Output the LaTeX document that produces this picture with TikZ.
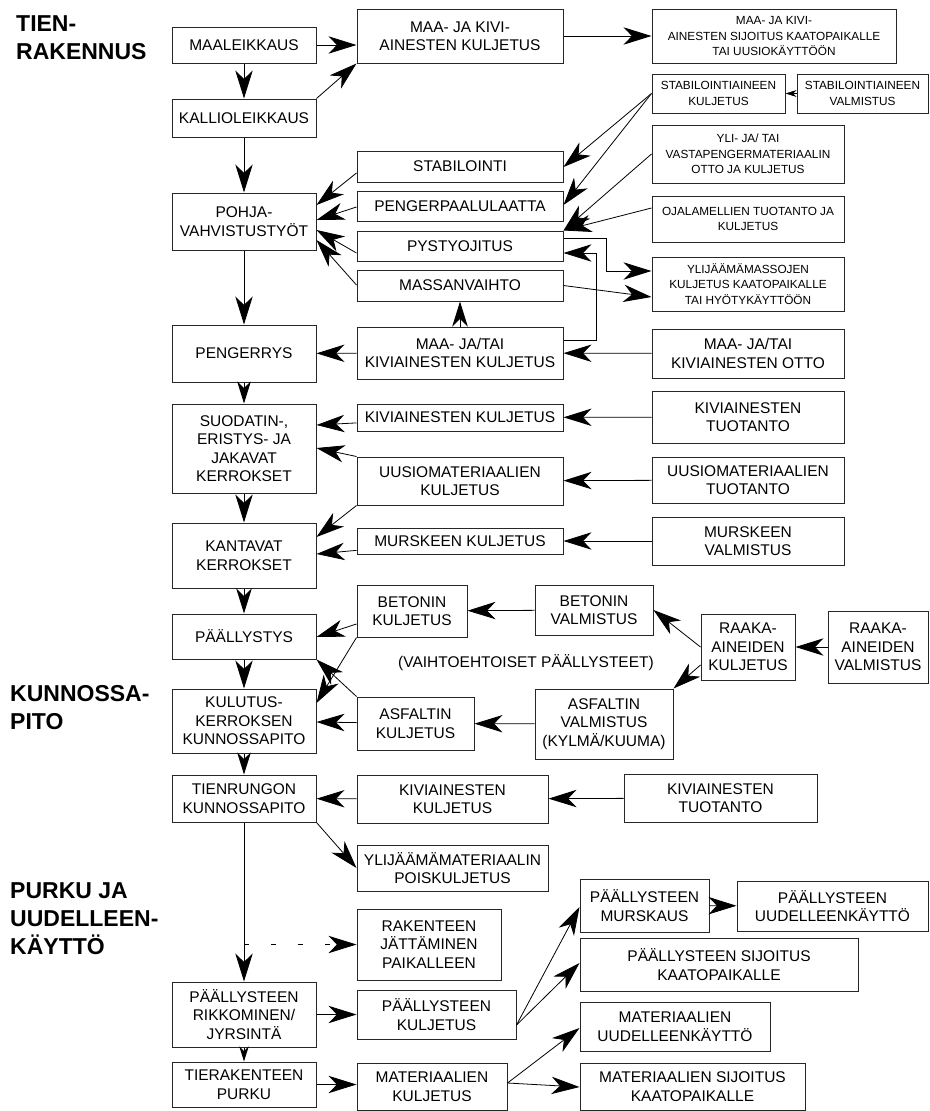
\documentclass[tikz,border=0pt]{standalone}
\usepackage{fontspec}
\setmainfont{Liberation Sans}
\usetikzlibrary{arrows.meta}

\begin{document}
\begin{tikzpicture}[x=1pt, y=-1pt,
	box/.style={draw=black!85, line width=1pt, align=center, inner sep=2pt, font=\fontsize{15.5}{18.5}\selectfont},
	small/.style={font=\fontsize{11.8}{15.5}\selectfont},
	lbox/.style={box, minimum width=144pt},
	mbox/.style={box, minimum width=206pt},
	rbox/.style={box, minimum width=192pt},
	head/.style={anchor=north west, align=left, inner sep=0pt, font=\fontsize{23}{28}\selectfont\bfseries},
	arr/.style={line width=0.8pt, -{Stealth[length=#1, width'=0pt 0.62, inset'=0pt 0.3]}},
	arr/.default=28pt]
	\useasboundingbox (0,0) rectangle (929,1111);
	\node[head] (tien) at (16,15) {TIEN-\\RAKENNUS};
	\node[head] (kunnossa) at (10,685) {KUNNOSSA-\\PITO};
	\node[head] (purku) at (10,882) {PURKU JA\\UUDELLEEN-\\KÄYTTÖ};
	% vasen sarake
	\node[lbox, minimum height=36pt] (maaleik) at (244,45) {MAALEIKKAUS};
	\node[lbox, minimum height=38pt] (kallio) at (244,118) {KALLIOLEIKKAUS};
	\node[lbox, minimum height=57pt] (pohja) at (244,221.5) {POHJA-\\VAHVISTUSTYÖT};
	\node[lbox, minimum height=57pt] (pengerrys) at (244,353.5) {PENGERRYS};
	\node[lbox, minimum height=89pt] (suodatin) at (244,448.5) {SUODATIN-,\\ERISTYS- JA\\JAKAVAT\\KERROKSET};
	\node[lbox, minimum height=65pt] (kantavat) at (244,555.5) {KANTAVAT\\KERROKSET};
	\node[lbox, minimum height=45pt] (paallystys) at (244,636.5) {PÄÄLLYSTYS};
	\node[lbox, minimum height=64pt] (kulutus) at (244,721) {KULUTUS-\\KERROKSEN\\KUNNOSSAPITO};
	\node[lbox, minimum height=47pt] (tienrungon) at (244,798.5) {TIENRUNGON\\KUNNOSSAPITO};
	\node[lbox, minimum height=65pt] (rikkominen) at (244,1014.5) {PÄÄLLYSTEEN\\RIKKOMINEN/\\JYRSINTÄ};
	\node[lbox, minimum height=45pt] (tierak) at (244,1084.5) {TIERAKENTEEN\\PURKU};
	% keskisarake
	\node[mbox, minimum height=54pt] (maakivi) at (460,36) {MAA- JA KIVI-\\AINESTEN KULJETUS};
	\node[mbox, minimum height=31pt] (stabilointi) at (460,166.5) {STABILOINTI};
	\node[mbox, minimum height=30pt] (pengerpaalu) at (460,206) {PENGERPAALULAATTA};
	\node[mbox, minimum height=30pt] (pystyojitus) at (460,246) {PYSTYOJITUS};
	\node[mbox, minimum height=31pt] (massanvaihto) at (460,285.5) {MASSANVAIHTO};
	\node[mbox, minimum height=52pt] (maakulj) at (460,353) {MAA- JA/TAI\\KIVIAINESTEN KULJETUS};
	\node[mbox, minimum height=27pt] (kivkulj) at (460,417.5) {KIVIAINESTEN KULJETUS};
	\node[mbox, minimum height=48pt] (uusiokulj) at (460,481) {UUSIOMATERIAALIEN\\KULJETUS};
	\node[mbox, minimum height=26pt] (murskulj) at (460,541) {MURSKEEN KULJETUS};
	\node[box, minimum width=110pt, minimum height=52pt] (betkulj) at (412,611) {BETONIN\\KULJETUS};
	\node[box, minimum width=117pt, minimum height=53pt] (asfkulj) at (415.5,723.5) {ASFALTIN\\KULJETUS};
	\node[box, minimum width=191pt, minimum height=48pt] (kivkulj2) at (452.5,799) {KIVIAINESTEN\\KULJETUS};
	\node[box, minimum width=191pt, minimum height=46pt] (ylijmat) at (452.5,868) {YLIJÄÄMÄMATERIAALIN\\POISKULJETUS};
	\node[box, minimum width=144pt, minimum height=71pt] (rakenteen) at (429,944.5) {RAKENTEEN\\JÄTTÄMINEN\\PAIKALLEEN};
	\node[box, minimum width=159pt, minimum height=49pt] (paalkulj) at (436.5,1014.5) {PÄÄLLYSTEEN\\KULJETUS};
	\node[box, minimum width=150pt, minimum height=47pt] (matkulj) at (432,1086.5) {MATERIAALIEN\\KULJETUS};
	% oikea puoli
	\node[box, small, minimum width=244pt, minimum height=54pt] (sijoitus) at (774,36) {MAA- JA KIVI-\\AINESTEN SIJOITUS KAATOPAIKALLE\\TAI UUSIOKÄYTTÖÖN};
	\node[box, small, minimum width=133pt, minimum height=39pt] (stabkulj) at (718.5,93.5) {STABILOINTIAINEEN\\KULJETUS};
	\node[box, small, minimum width=131pt, minimum height=39pt] (stabvalm) at (862.5,93.5) {STABILOINTIAINEEN\\VALMISTUS};
	\node[rbox, small, minimum height=58pt] (yli) at (748,154) {YLI- JA/ TAI\\VASTAPENGERMATERIAALIN\\OTTO JA KULJETUS};
	\node[rbox, small, minimum height=46pt] (ojalam) at (748,219) {OJALAMELLIEN TUOTANTO JA\\KULJETUS};
	\node[rbox, small, minimum height=54pt] (ylijmassa) at (748,284) {YLIJÄÄMÄMASSOJEN\\KULJETUS KAATOPAIKALLE\\TAI HYÖTYKÄYTTÖÖN};
	\node[rbox, minimum height=49pt] (maaotto) at (748,353.5) {MAA- JA/TAI\\KIVIAINESTEN OTTO};
	\node[rbox, minimum height=52pt] (kivtuot) at (748,417) {KIVIAINESTEN\\TUOTANTO};
	\node[rbox, minimum height=46pt] (uusiotuot) at (748,480) {UUSIOMATERIAALIEN\\TUOTANTO};
	\node[rbox, minimum height=48pt] (murskvalm) at (748,541) {MURSKEEN\\VALMISTUS};
	\node[box, minimum width=118pt, minimum height=50pt] (betvalm) at (594,610) {BETONIN\\VALMISTUS};
	\node[box, minimum width=138pt, minimum height=70pt] (asfvalm) at (604,724) {ASFALTIN\\VALMISTUS\\(KYLMÄ/KUUMA)};
	\node[box, minimum width=94pt, minimum height=66pt] (raakakulj) at (748,647) {RAAKA-\\AINEIDEN\\KULJETUS};
	\node[box, minimum width=100pt, minimum height=72pt] (raakavalm) at (878,647) {RAAKA-\\AINEIDEN\\VALMISTUS};
	\node[font=\fontsize{15.5}{18.5}\selectfont] (vaihto) at (526,663) {(VAIHTOEHTOISET PÄÄLLYSTEET)};
	\node[box, minimum width=193pt, minimum height=48pt] (kivtuot2) at (720.5,798) {KIVIAINESTEN\\TUOTANTO};
	\node[box, minimum width=129pt, minimum height=53pt] (murskaus) at (644.5,905.5) {PÄÄLLYSTEEN\\MURSKAUS};
	\node[box, minimum width=191pt, minimum height=50pt] (paaluud) at (832.5,906) {PÄÄLLYSTEEN\\UUDELLEENKÄYTTÖ};
	\node[box, minimum width=278pt, minimum height=53pt] (paalsij) at (719,964.5) {PÄÄLLYSTEEN SIJOITUS\\KAATOPAIKALLE};
	\node[box, minimum width=190pt, minimum height=49pt] (matuud) at (675,1026.5) {MATERIAALIEN\\UUDELLEENKÄYTTÖ};
	\node[box, minimum width=225pt, minimum height=47pt] (matsij) at (692.5,1086.5) {MATERIAALIEN SIJOITUS\\KAATOPAIKALLE};
	% nuolet
	\draw[arr] (maaleik.east) -- (maakivi.west |- maaleik.east);
	\draw[arr] (maaleik) -- (kallio);
	\draw[arr] (kallio.north east) -- (maakivi.south west);
	\draw[arr] (maakivi) -- (sijoitus);
	\draw[arr] (kallio) -- (pohja);
	\draw[arr] (pohja) -- (pengerrys);
	\draw[arr] (stabilointi.west |- 0,173) -- (pohja.east |- 0,205);
	\draw[arr] (pengerpaalu.west |- 0,207) -- (pohja.east |- 0,220);
	\draw[arr] (pystyojitus.west |- 0,253) -- (pohja.east |- 0,230);
	\draw[arr] (massanvaihto.west |- 0,285) -- (pohja.east |- 0,240);
	\draw[arr] (stabkulj.west) -- (stabilointi.east |- 0,167);
	\draw[arr] (stabkulj.west) -- (pengerpaalu.east |- 0,205);
	\draw[arr=11pt] (stabvalm) -- (stabkulj);
	\draw[arr] (yli.west) -- (pystyojitus.north east);
	\draw[arr] (ojalam.west |- 0,208) -- (pystyojitus.north east);
	\draw[arr] (pystyojitus.east |- 0,238) -- ++(43,0) |- (ylijmassa.west |- 0,271);
	\draw[arr] (massanvaihto.east) -- (ylijmassa.west |- 0,297);
	\draw[arr] (maakulj.east |- 0,340) -- ++(33,0) |- (pystyojitus.east |- 0,253);
	\draw[arr=25pt] (maakulj) -- (massanvaihto);
	\draw[arr] (maakulj) -- (pengerrys);
	\draw[arr] (maaotto) -- (maakulj);
	\draw[arr=22pt] (pengerrys) -- (suodatin);
	\draw[arr] (kivkulj) -- (suodatin.east |- 0,425);
	\draw[arr] (kivtuot) -- (kivkulj);
	\draw[arr] (uusiokulj.north west) -- (suodatin.east |- 0,448);
	\draw[arr] (uusiokulj.south west) -- (kantavat.east |- 0,537);
	\draw[arr] (uusiotuot) -- (uusiokulj);
	\draw[arr] (murskulj) -- (kantavat.east |- 0,554);
	\draw[arr] (murskvalm) -- (murskulj);
	\draw[arr] (suodatin) -- (kantavat);
	\draw[arr=25pt] (kantavat) -- (paallystys);
	\draw[arr] (paallystys) -- (kulutus);
	\draw[arr] (betkulj.west |- 0,624) -- (paallystys.east |- 0,637);
	\draw[arr] (betkulj.south west) -- (kulutus.east |- 0,703);
	\draw[arr] (asfkulj.north west) -- (paallystys.south east);
	\draw[arr] (asfkulj) -- (kulutus.east |- 0,722);
	\draw[arr] (betvalm) -- (betkulj);
	\draw[arr] (asfvalm) -- (asfkulj);
	\draw[arr] (raakakulj.west |- 0,647) -- (betvalm.east);
	\draw[arr] (raakakulj.west |- 0,665) -- (asfvalm.north east);
	\draw[arr] (raakavalm) -- (raakakulj);
	\draw[arr=22pt] (kulutus) -- (tienrungon);
	\draw[arr] (kivkulj2) -- (tienrungon);
	\draw[arr] (kivtuot2) -- (kivkulj2);
	\draw[arr] (tienrungon.south east) -- (ylijmat.west);
	\draw[arr] (tienrungon) -- (rikkominen);
	\coordinate (haara) at (tienrungon.south |- rakenteen.west);
	\draw[arr, dash pattern=on 5pt off 22pt] (haara) -- (rakenteen);
	\draw[arr] (rikkominen) -- (paalkulj);
	\draw[arr=15pt] (rikkominen) -- (tierak);
	\draw[arr] (tierak.east) -- (matkulj.west |- tierak.east);
	\draw[arr] (paalkulj.east |- 0,1025) -- (murskaus.west |- 0,907);
	\draw[arr] (paalkulj.east |- 0,1025) -- (paalsij.west |- 0,963);
	\draw[arr] (murskaus) -- (paaluud);
	\draw[arr] (matkulj.east |- 0,1083) -- (matuud.west |- 0,1028);
	\draw[arr] (matkulj.east |- 0,1083) -- (matsij.west |- 0,1087);
\end{tikzpicture}
\end{document}
